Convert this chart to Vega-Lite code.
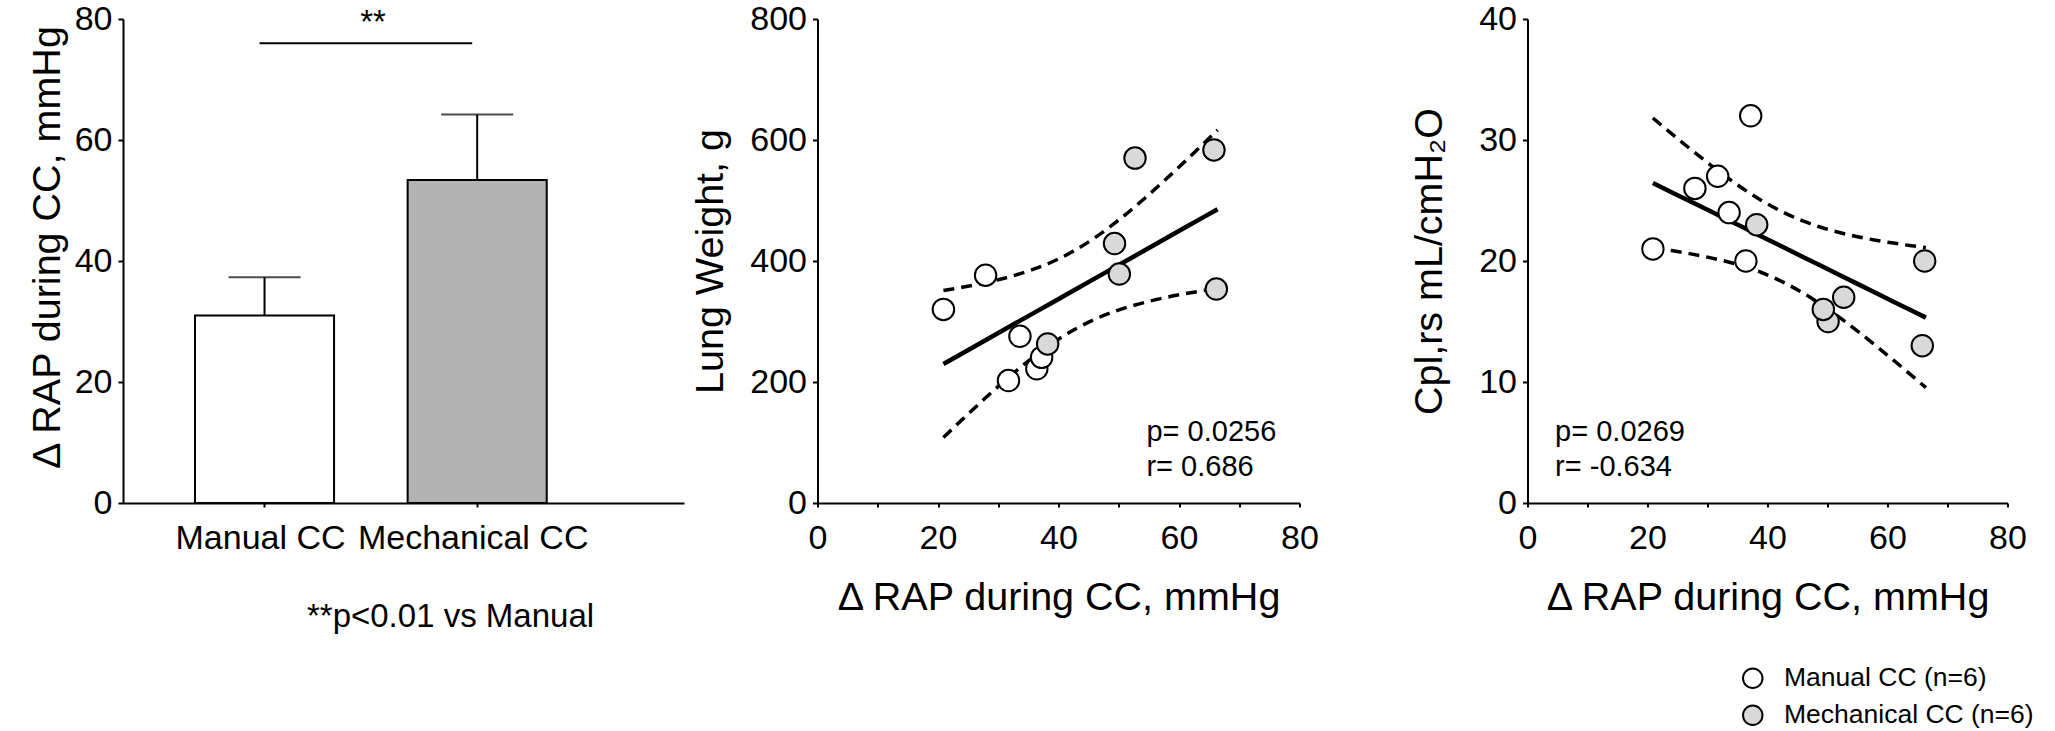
{
  "$schema": "https://vega.github.io/schema/vega-lite/v6.json",
  "padding": {"left": 26, "top": 2, "right": 0, "bottom": 0},
  "config": {
    "font": "Liberation Sans",
    "view": {"stroke": null},
    "axis": {
      "domainColor": "black", "domainWidth": 2, "tickColor": "black", "tickWidth": 2,
      "labelColor": "black", "titleColor": "black", "labelFontSize": 34, "titleFontSize": 39.5,
      "titleFontWeight": "normal", "grid": false, "labelFont": "Liberation Sans", "titleFont": "Liberation Sans",
      "labelFlush": false, "labelOverlap": false, "labelLimit": 0
    },
    "axisY": {"tickSize": 5, "labelPadding": 6},
    "axisX": {"tickSize": 4, "labelPadding": 14},
    "text": {"font": "Liberation Sans", "color": "black"}
  },
  "datasets": {
    "bars": [
      {"group": "Manual CC", "mean": 31.0, "upper": 37.3},
      {"group": "Mechanical CC", "mean": 53.4, "upper": 64.2}
    ],
    "sig": [
      {"from": "Manual CC", "to": "Mechanical CC", "y": 76, "ylab": 77.7, "label": "**"}
    ],
    "pts": [
      {"group": "Manual CC", "rap": 20.9, "lw": 320, "cpl": 21},
      {"group": "Manual CC", "rap": 27.9, "lw": 376.5, "cpl": 26},
      {"group": "Manual CC", "rap": 31.7, "lw": 202.4, "cpl": 27},
      {"group": "Manual CC", "rap": 33.6, "lw": 275.6, "cpl": 24},
      {"group": "Manual CC", "rap": 36.4, "lw": 221.9, "cpl": 20},
      {"group": "Manual CC", "rap": 37.2, "lw": 240.7, "cpl": 32},
      {"group": "Mechanical CC", "rap": 38.2, "lw": 262.9, "cpl": 23},
      {"group": "Mechanical CC", "rap": 50.1, "lw": 378.5, "cpl": 15},
      {"group": "Mechanical CC", "rap": 52.7, "lw": 570.1, "cpl": 17},
      {"group": "Mechanical CC", "rap": 49.3, "lw": 428.9, "cpl": 16},
      {"group": "Mechanical CC", "rap": 65.8, "lw": 583.6, "cpl": 13},
      {"group": "Mechanical CC", "rap": 66.2, "lw": 353.6, "cpl": 20}
    ],
    "fit2": [
      {"rap": 20.9, "fit": 229.7, "lo": 108.2, "hi": 351.2},
      {"rap": 24, "fit": 247.2, "lo": 137.8, "hi": 356.6},
      {"rap": 27, "fit": 264.0, "lo": 165.7, "hi": 362.3},
      {"rap": 30, "fit": 280.9, "lo": 192.7, "hi": 369.1},
      {"rap": 33, "fit": 297.8, "lo": 218.5, "hi": 377.1},
      {"rap": 36, "fit": 314.7, "lo": 242.5, "hi": 386.9},
      {"rap": 39, "fit": 331.5, "lo": 264.2, "hi": 398.8},
      {"rap": 42.5, "fit": 351.2, "lo": 285.9, "hi": 416.5},
      {"rap": 46, "fit": 370.9, "lo": 303.6, "hi": 438.2},
      {"rap": 49, "fit": 387.8, "lo": 315.6, "hi": 460.0},
      {"rap": 52, "fit": 404.6, "lo": 325.3, "hi": 483.9},
      {"rap": 55, "fit": 421.5, "lo": 333.3, "hi": 509.7},
      {"rap": 58, "fit": 438.4, "lo": 340.1, "hi": 536.7},
      {"rap": 61, "fit": 455.3, "lo": 345.9, "hi": 564.7},
      {"rap": 64, "fit": 472.1, "lo": 351.0, "hi": 593.2},
      {"rap": 66.4, "fit": 485.6, "lo": 354.8, "hi": 616.4}
    ],
    "fit3": [
      {"rap": 20.9, "fit": 26.45, "lo": 21.07, "hi": 31.82},
      {"rap": 24, "fit": 25.69, "lo": 20.86, "hi": 30.53},
      {"rap": 27, "fit": 24.96, "lo": 20.61, "hi": 29.31},
      {"rap": 30, "fit": 24.23, "lo": 20.32, "hi": 28.13},
      {"rap": 33, "fit": 23.49, "lo": 19.98, "hi": 27.00},
      {"rap": 36, "fit": 22.76, "lo": 19.57, "hi": 25.95},
      {"rap": 39, "fit": 22.02, "lo": 19.05, "hi": 25.00},
      {"rap": 42.5, "fit": 21.17, "lo": 18.28, "hi": 24.06},
      {"rap": 46, "fit": 20.31, "lo": 17.33, "hi": 23.29},
      {"rap": 49, "fit": 19.58, "lo": 16.38, "hi": 22.77},
      {"rap": 52, "fit": 18.84, "lo": 15.34, "hi": 22.35},
      {"rap": 55, "fit": 18.11, "lo": 14.21, "hi": 22.01},
      {"rap": 58, "fit": 17.37, "lo": 13.02, "hi": 21.72},
      {"rap": 61, "fit": 16.64, "lo": 11.80, "hi": 21.48},
      {"rap": 64, "fit": 15.91, "lo": 10.55, "hi": 21.26},
      {"rap": 66.4, "fit": 15.32, "lo": 9.53, "hi": 21.11}
    ],
    "stats2": [
      {"rap": 54.6, "val": 103, "label": "p= 0.0256"},
      {"rap": 54.6, "val": 44, "label": "r= 0.686"}
    ],
    "stats3": [
      {"rap": 4.6, "val": 5.15, "label": "p= 0.0269"},
      {"rap": 4.6, "val": 2.2, "label": "r= -0.634"}
    ]
  },
  "bounds": "flush",
  "spacing": 133.5,
  "resolve": {"scale": {"fill": "independent"}, "legend": {"fill": "independent"}},
  "hconcat": [
    {
      "width": 561,
      "height": 484,
      "layer": [
        {
          "data": {"name": "bars"},
          "mark": {"type": "bar", "stroke": "black", "strokeWidth": 2},
          "encoding": {
            "x": {
              "field": "group", "type": "nominal", "sort": null,
              "scale": {"paddingInner": 0.346, "paddingOuter": 0.492, "align": 0.344},
              "axis": {
                "labelAngle": 0, "labelOffset": -4, "title": "**p<0.01 vs Manual", "titleFontSize": 33,
                "titleX": 327, "titleY": 123, "titleAlign": "center", "titleBaseline": "alphabetic", "titleAnchor": null
              }
            },
            "y": {
              "field": "mean", "type": "quantitative",
              "scale": {"domain": [0, 80], "nice": false},
              "axis": {
                "values": [0, 20, 40, 60, 80], "title": "Δ RAP during CC, mmHg",
                "titleX": -64, "titleY": 228, "titleAlign": "center", "titleBaseline": "alphabetic", "titleAnchor": null
              }
            },
            "fill": {
              "field": "group", "type": "nominal",
              "scale": {"domain": ["Manual CC", "Mechanical CC"], "range": ["#ffffff", "#b3b3b3"]},
              "legend": null
            }
          }
        },
        {
          "data": {"name": "bars"},
          "mark": {"type": "rule", "color": "black", "strokeWidth": 2},
          "encoding": {
            "x": {"field": "group", "type": "nominal", "sort": null},
            "y": {"field": "mean", "type": "quantitative"},
            "y2": {"field": "upper"}
          }
        },
        {
          "data": {"name": "bars"},
          "mark": {"type": "tick", "color": "black", "thickness": 2, "size": 72, "orient": "horizontal"},
          "encoding": {
            "x": {"field": "group", "type": "nominal", "sort": null},
            "y": {"field": "upper", "type": "quantitative"}
          }
        },
        {
          "data": {"name": "sig"},
          "mark": {"type": "rule", "color": "black", "strokeWidth": 2, "xOffset": -5, "x2Offset": -5},
          "encoding": {
            "x": {"field": "from", "type": "nominal"},
            "x2": {"field": "to"},
            "y": {"field": "y", "type": "quantitative"}
          }
        },
        {
          "data": {"name": "sig"},
          "mark": {"type": "text", "fontSize": 33, "align": "center", "baseline": "alphabetic"},
          "encoding": {
            "x": {"field": "from", "type": "nominal", "bandPosition": 1.28},
            "y": {"field": "ylab", "type": "quantitative"},
            "text": {"field": "label"}
          }
        }
      ]
    },
    {
      "bounds": "flush",
      "spacing": 228,
      "resolve": {"scale": {"fill": "independent"}, "legend": {"fill": "independent"}},
      "hconcat": [
        {
          "width": 482,
          "height": 484,
          "layer": [
            {
              "data": {"name": "fit2"},
              "mark": {"type": "line", "color": "black", "strokeWidth": 3.5, "strokeDash": [11, 7], "interpolate": "monotone"},
              "encoding": {
                "x": {
                  "field": "rap", "type": "quantitative",
                  "scale": {"domain": [0, 80], "nice": false},
                  "axis": {
                    "values": [0, 10, 20, 30, 40, 50, 60, 70, 80],
                    "labelExpr": "datum.value % 20 === 0 ? datum.label : ''",
                    "title": "Δ RAP during CC, mmHg", "titleY": 106, "titleBaseline": "alphabetic"
                  }
                },
                "y": {
                  "field": "hi", "type": "quantitative",
                  "scale": {"domain": [0, 800], "nice": false},
                  "axis": {
                    "values": [0, 200, 400, 600, 800], "title": "Lung Weight, g",
                    "titleX": -95, "titleY": 242, "titleAlign": "center", "titleBaseline": "alphabetic", "titleAnchor": null
                  }
                }
              }
            },
            {
              "data": {"name": "fit2"},
              "mark": {"type": "line", "color": "black", "strokeWidth": 3.5, "strokeDash": [11, 7], "interpolate": "monotone"},
              "encoding": {
                "x": {"field": "rap", "type": "quantitative"},
                "y": {"field": "lo", "type": "quantitative"}
              }
            },
            {
              "data": {"name": "fit2"},
              "mark": {"type": "line", "color": "black", "strokeWidth": 4.5},
              "encoding": {
                "x": {"field": "rap", "type": "quantitative"},
                "y": {"field": "fit", "type": "quantitative"}
              }
            },
            {
              "data": {"name": "pts"},
              "mark": {"type": "point", "shape": "circle", "filled": true, "size": 460, "stroke": "black", "strokeWidth": 2, "opacity": 1},
              "encoding": {
                "x": {"field": "rap", "type": "quantitative"},
                "y": {"field": "lw", "type": "quantitative"},
                "fill": {
                  "field": "group", "type": "nominal",
                  "scale": {"domain": ["Manual CC", "Mechanical CC"], "range": ["#ffffff", "#d9d9d9"]},
                  "legend": null
                },
                "order": {"value": 0}
              }
            },
            {
              "data": {"name": "stats2"},
              "mark": {"type": "text", "fontSize": 29, "align": "left", "baseline": "alphabetic"},
              "encoding": {
                "x": {"field": "rap", "type": "quantitative"},
                "y": {"field": "val", "type": "quantitative"},
                "text": {"field": "label"}
              }
            }
          ]
        },
        {
          "width": 480,
          "height": 484,
          "layer": [
            {
              "data": {"name": "fit3"},
              "mark": {"type": "line", "color": "black", "strokeWidth": 3.5, "strokeDash": [11, 7], "interpolate": "monotone"},
              "encoding": {
                "x": {
                  "field": "rap", "type": "quantitative",
                  "scale": {"domain": [0, 80], "nice": false},
                  "axis": {
                    "values": [0, 10, 20, 30, 40, 50, 60, 70, 80],
                    "labelExpr": "datum.value % 20 === 0 ? datum.label : ''",
                    "title": "Δ RAP during CC, mmHg", "titleY": 106, "titleBaseline": "alphabetic"
                  }
                },
                "y": {
                  "field": "hi", "type": "quantitative",
                  "scale": {"domain": [0, 40], "nice": false},
                  "axis": {
                    "values": [0, 10, 20, 30, 40], "title": "Cpl,rs mL/cmH₂O",
                    "titleX": -86, "titleY": 242, "titleAlign": "center", "titleBaseline": "alphabetic", "titleAnchor": null
                  }
                }
              }
            },
            {
              "data": {"name": "fit3"},
              "mark": {"type": "line", "color": "black", "strokeWidth": 3.5, "strokeDash": [11, 7], "interpolate": "monotone"},
              "encoding": {
                "x": {"field": "rap", "type": "quantitative"},
                "y": {"field": "lo", "type": "quantitative"}
              }
            },
            {
              "data": {"name": "fit3"},
              "mark": {"type": "line", "color": "black", "strokeWidth": 4.5},
              "encoding": {
                "x": {"field": "rap", "type": "quantitative"},
                "y": {"field": "fit", "type": "quantitative"}
              }
            },
            {
              "data": {"name": "pts"},
              "mark": {"type": "point", "shape": "circle", "filled": true, "size": 460, "stroke": "black", "strokeWidth": 2, "opacity": 1},
              "encoding": {
                "x": {"field": "rap", "type": "quantitative"},
                "y": {"field": "cpl", "type": "quantitative"},
                "fill": {
                  "field": "group", "type": "nominal",
                  "scale": {"domain": ["Manual CC", "Mechanical CC"], "range": ["#ffffff", "#d9d9d9"]},
                  "legend": {
                    "orient": "none", "legendX": 212, "legendY": 646, "title": null,
                    "labelExpr": "datum.label + ' (n=6)'", "labelFontSize": 26.5, "labelColor": "black",
                    "labelFont": "Liberation Sans", "labelLimit": 0, "symbolType": "circle", "symbolSize": 380,
                    "symbolStrokeColor": "black", "symbolStrokeWidth": 2, "rowPadding": 9, "labelOffset": 18
                  }
                },
                "order": {"value": 0}
              }
            },
            {
              "data": {"name": "stats3"},
              "mark": {"type": "text", "fontSize": 29, "align": "left", "baseline": "alphabetic"},
              "encoding": {
                "x": {"field": "rap", "type": "quantitative"},
                "y": {"field": "val", "type": "quantitative"},
                "text": {"field": "label"}
              }
            }
          ]
        }
      ]
    }
  ]
}
